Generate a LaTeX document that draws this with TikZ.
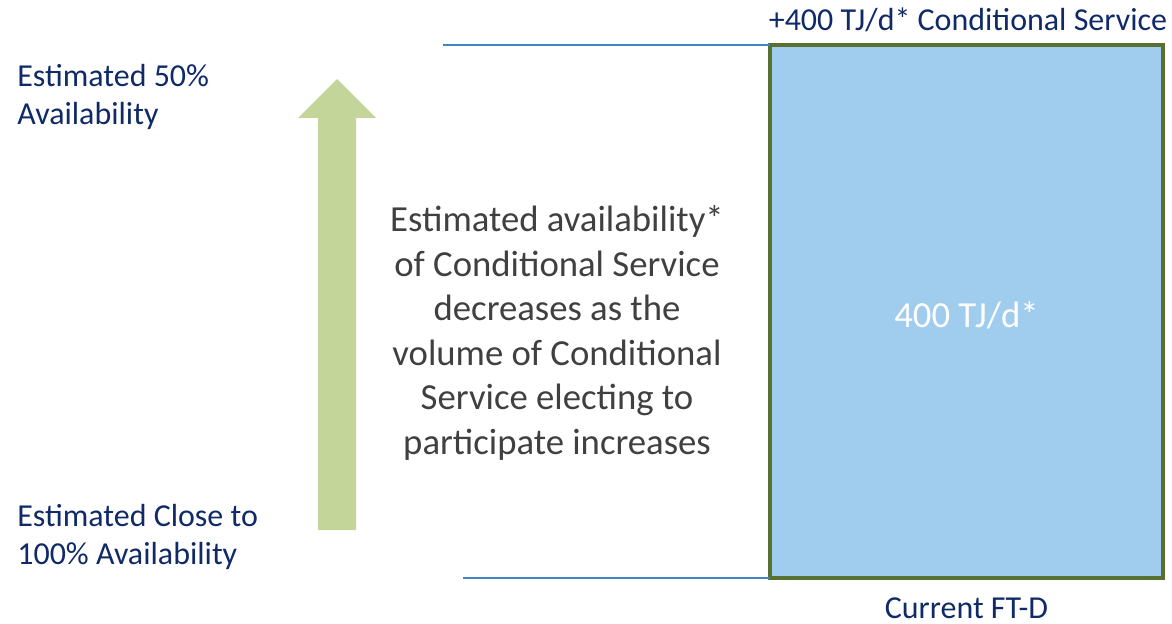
\documentclass[tikz,border=0pt]{standalone}
\usepackage{fontspec}
\setmainfont{Carlito}
\usetikzlibrary{positioning}
\definecolor{csNavy}{RGB}{16,42,104}
\definecolor{csGrey}{RGB}{64,64,64}
\definecolor{csBox}{RGB}{160,204,238}
\definecolor{csEdge}{RGB}{88,112,48}
\definecolor{csRule}{RGB}{66,130,198}
\definecolor{csArrow}{RGB}{196,213,154}

\begin{document}
\begin{tikzpicture}[
  x=0.02cm, y=-0.02cm,
  lab/.style={font=\fontsize{18.2}{21.5}\selectfont, text=csNavy, inner sep=0pt},
  note/.style={font=\fontsize{20.9}{25.3}\selectfont, text=csGrey, align=center, inner sep=0pt},
  rule/.style={draw=csRule, line width=0.9pt}
]
\useasboundingbox (0,0) rectangle (1172,624);
% volume box
\node (box) [fill=csBox, draw=csEdge, line width=1.8pt, minimum width=393*0.02cm,
  minimum height=533*0.02cm, anchor=north west, inner sep=0pt, outer sep=0pt] at (770,45) {};
\node (vol) at (box.center) [font=\fontsize{20.9}{24}\selectfont, text=white, yshift=-0.07cm] {400 TJ/d*};
% limits
\coordinate (topL) at (443,45);
\coordinate (botL) at (463,578);
\draw[rule] (topL) -- (topL -| box.west);
\draw[rule] (botL) -- (botL -| box.west);
\node (upper) [lab, anchor=south] at (968,32) {+400 TJ/d* Conditional Service};
\node (lower) [lab, below=11pt of box.south] {Current FT-D};
% availability arrow
\fill[csArrow] (318,530) -- (318,118) -- (298,118) -- (337,79) -- (376,118)
  -- (356,118) -- (356,530) -- cycle;
\node (high) [lab, anchor=north west, align=left] at (17,64) {Estimated 50\%\\Availability};
\node (low) [lab, anchor=north west, align=left] at (17,504) {Estimated Close to\\100\% Availability};
\node (txt) [note] at (557,333) {Estimated availability*\\of Conditional Service\\decreases as the\\volume of Conditional\\Service electing to\\participate increases};
\end{tikzpicture}
\end{document}
